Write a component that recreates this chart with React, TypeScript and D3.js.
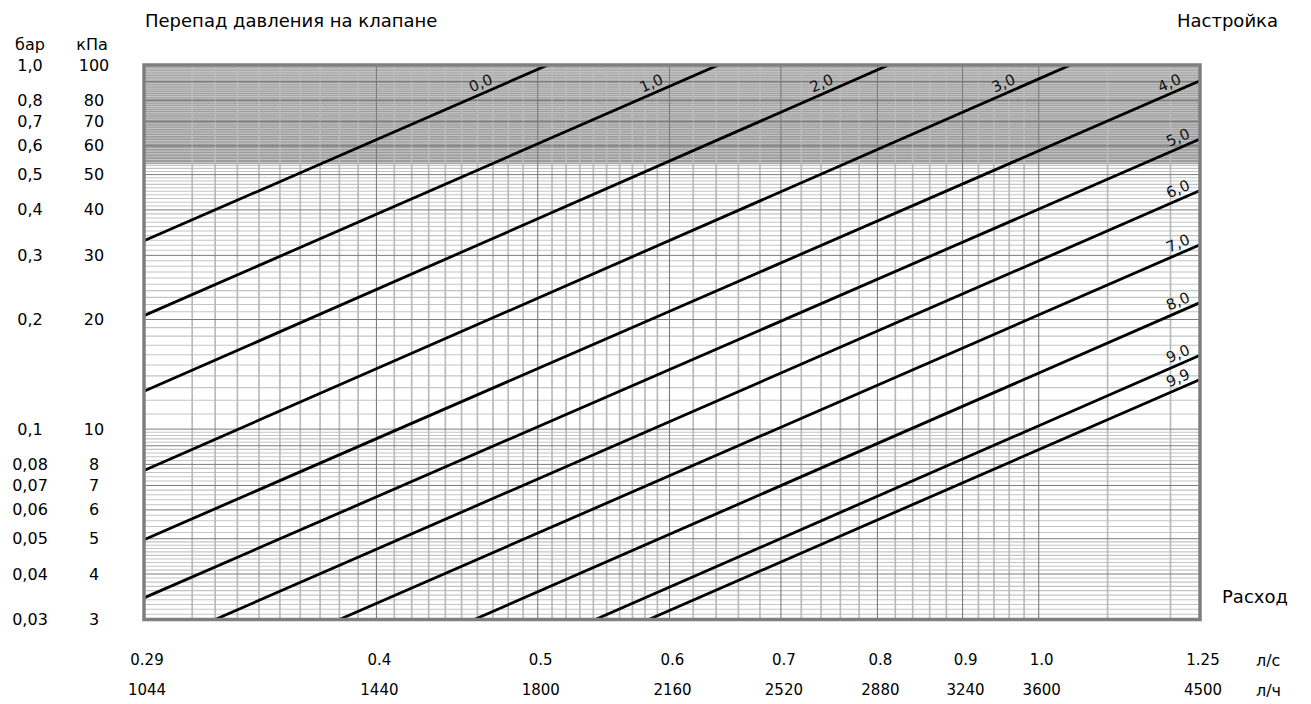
import React, { useEffect, useRef } from "react";
import * as d3 from "d3";

// расход: подписи оси X
const flowLs = [0.29, 0.4, 0.5, 0.6, 0.7, 0.8, 0.9, 1.0, 1.25];
const flowLsLabels = ["0.29", "0.4", "0.5", "0.6", "0.7", "0.8", "0.9", "1.0", "1.25"];
const flowLhLabels = ["1044", "1440", "1800", "2160", "2520", "2880", "3240", "3600", "4500"];

// перепад давления: подписи оси Y
const dpKpa = [100, 80, 70, 60, 50, 40, 30, 20, 10, 8, 7, 6, 5, 4, 3];
const dpBarLabels = ["1,0", "0,8", "0,7", "0,6", "0,5", "0,4", "0,3", "0,2", "0,1", "0,08", "0,07", "0,06", "0,05", "0,04", "0,03"];
const dpKpaLabels = ["100", "80", "70", "60", "50", "40", "30", "20", "10", "8", "7", "6", "5", "4", "3"];

// настройки клапана, точки входа и выхода кривой из поля [л/с, кПа]
const settings = ["0,0", "1,0", "2,0", "3,0", "4,0", "5,0", "6,0", "7,0", "8,0", "9,0", "9,9"];
const curveIn = [
  [0.29, 32.9], [0.29, 20.5], [0.29, 12.7], [0.29, 7.7], [0.29, 4.97], [0.29, 3.44],
  [0.32, 3], [0.38, 3], [0.458, 3], [0.5415, 3], [0.583, 3],
];
const curveOut = [
  [0.507, 100], [0.642, 100], [0.8125, 100], [1.045, 100], [1.25, 90.5], [1.25, 62.6],
  [1.25, 45.2], [1.25, 32.1], [1.25, 22.25], [1.25, 15.95], [1.25, 13.69],
];

// затемнённая зона (шум), выше этого перепада
const shadedAboveKpa = 53.5;

const App = () => {
  const ref = useRef<SVGSVGElement>(null);

  useEffect(() => {
    const svg = d3.select(ref.current);
    svg.selectAll("*").remove();

    const left = 144, right = 1200, top = 65, bottom = 619.5;
    const x = d3.scaleLog().domain([0.29, 1.25]).range([left, right]);
    const y = d3.scaleLog().domain([3, 100]).range([bottom, top]);
    const font = "'DejaVu Sans', Verdana, sans-serif";

    svg.append("defs").append("clipPath").attr("id", "plot")
      .append("rect").attr("x", left).attr("y", top).attr("width", right - left).attr("height", bottom - top);

    const plot = svg.append("g").attr("clip-path", "url(#plot)");
    plot.append("rect").attr("x", left).attr("y", top).attr("width", right - left)
      .attr("height", y(shadedAboveKpa) - top).attr("fill", "#9c9c9c");

    // сетка
    const minorY = [
      ...d3.range(31, 50).filter((i) => i % 10 !== 0).map((i) => i / 10),
      ...d3.range(52, 100, 2).filter((i) => i % 10 !== 0).map((i) => i / 10),
      ...d3.range(11, 100).filter((i) => i % 10 !== 0),
    ];
    const majorY = [4, 5, 6, 7, 8, 9, 10, 20, 30, 40, 50, 60, 70, 80, 90];
    const minorX = [
      ...d3.range(30, 60).filter((i) => i % 10 !== 0).map((i) => i / 100),
      ...d3.range(62, 100, 2).filter((i) => i % 10 !== 0).map((i) => i / 100),
      1.1, 1.2,
    ];
    const majorX = [0.4, 0.5, 0.6, 0.7, 0.8, 0.9, 1.0];

    plot.selectAll(".hmin").data(minorY).enter().append("line")
      .attr("x1", left).attr("x2", right).attr("y1", (d) => y(d)).attr("y2", (d) => y(d))
      .attr("stroke", "#c4c4c4").attr("stroke-width", 1.1);
    plot.selectAll(".vmin").data(minorX).enter().append("line")
      .attr("y1", top).attr("y2", bottom).attr("x1", (d) => x(d)).attr("x2", (d) => x(d))
      .attr("stroke", "#bababa").attr("stroke-width", 1.7);
    plot.selectAll(".hmaj").data(majorY).enter().append("line")
      .attr("x1", left).attr("x2", right).attr("y1", (d) => y(d)).attr("y2", (d) => y(d))
      .attr("stroke", "#7c7c7c").attr("stroke-width", 1);
    plot.selectAll(".vmaj").data(majorX).enter().append("line")
      .attr("y1", top).attr("y2", bottom).attr("x1", (d) => x(d)).attr("x2", (d) => x(d))
      .attr("stroke", "#7c7c7c").attr("stroke-width", 1.1);

    // кривые настроек
    const line = d3.line<number[]>().x((d) => x(d[0])).y((d) => y(d[1]));
    settings.forEach((s, i) => {
      const pts = [curveIn[i], curveOut[i]];
      plot.append("path").attr("d", line(pts)).attr("fill", "none")
        .attr("stroke", "#000").attr("stroke-width", 2.8);
    });

    // рамка
    svg.append("rect").attr("x", left).attr("y", top).attr("width", right - left).attr("height", bottom - top)
      .attr("fill", "none").attr("stroke", "#7f7f7f").attr("stroke-width", 3.5);

    // подписи настроек
    settings.forEach((s, i) => {
      const x1 = x(curveIn[i][0]), y1 = y(curveIn[i][1]);
      const x2 = x(curveOut[i][0]), y2 = y(curveOut[i][1]);
      const m = (y2 - y1) / (x2 - x1);
      const xTop = x1 + (top - y1) / m;
      const lx = Math.min(xTop - 63, right - 18);
      const ly = y1 + m * (lx - x1);
      const ang = (Math.atan(m) * 180) / Math.PI;
      svg.append("g").attr("transform", `translate(${lx},${ly}) rotate(${ang})`)
        .append("text").attr("y", -5).attr("text-anchor", "middle")
        .style("font-family", font).style("font-size", "15px").attr("fill", "#111").text(s);
    });

    // ось Y
    svg.append("text").attr("x", 30).attr("y", 44).attr("dy", "0.35em").attr("text-anchor", "middle")
      .style("font-family", font).style("font-size", "16px").text("бар");
    svg.append("text").attr("x", 92).attr("y", 44).attr("dy", "0.35em").attr("text-anchor", "middle")
      .style("font-family", font).style("font-size", "16px").text("кПа");
    dpKpa.forEach((v, i) => {
      svg.append("text").attr("x", 30).attr("y", y(v)).attr("dy", "0.35em").attr("text-anchor", "middle")
        .style("font-family", font).style("font-size", "16px").text(dpBarLabels[i]);
      svg.append("text").attr("x", 94).attr("y", y(v)).attr("dy", "0.35em").attr("text-anchor", "middle")
        .style("font-family", font).style("font-size", "16px").text(dpKpaLabels[i]);
    });

    // ось X
    flowLs.forEach((q, i) => {
      svg.append("text").attr("x", x(q) + 3).attr("y", 660).attr("dy", "0.35em").attr("text-anchor", "middle")
        .style("font-family", font).style("font-size", "15px").text(flowLsLabels[i]);
      svg.append("text").attr("x", x(q) + 3).attr("y", 690).attr("dy", "0.35em").attr("text-anchor", "middle")
        .style("font-family", font).style("font-size", "15px").text(flowLhLabels[i]);
    });
    svg.append("text").attr("x", 1256).attr("y", 660).attr("dy", "0.35em")
      .style("font-family", font).style("font-size", "16px").text("л/с");
    svg.append("text").attr("x", 1256).attr("y", 690).attr("dy", "0.35em")
      .style("font-family", font).style("font-size", "16px").text("л/ч");

    // заголовки
    svg.append("text").attr("x", 145).attr("y", 21).attr("dy", "0.35em")
      .style("font-family", font).style("font-size", "18px").text("Перепад давления на клапане");
    svg.append("text").attr("x", 1278).attr("y", 21).attr("dy", "0.35em").attr("text-anchor", "end")
      .style("font-family", font).style("font-size", "18px").text("Настройка");
    svg.append("text").attr("x", 1222).attr("y", 597).attr("dy", "0.35em")
      .style("font-family", font).style("font-size", "18px").text("Расход");
  }, []);

  return (
    <svg ref={ref} width={1311} height={704}
      style={{ position: "absolute", left: 0, top: 0, background: "#fff" }} />
  );
};

export default App;
